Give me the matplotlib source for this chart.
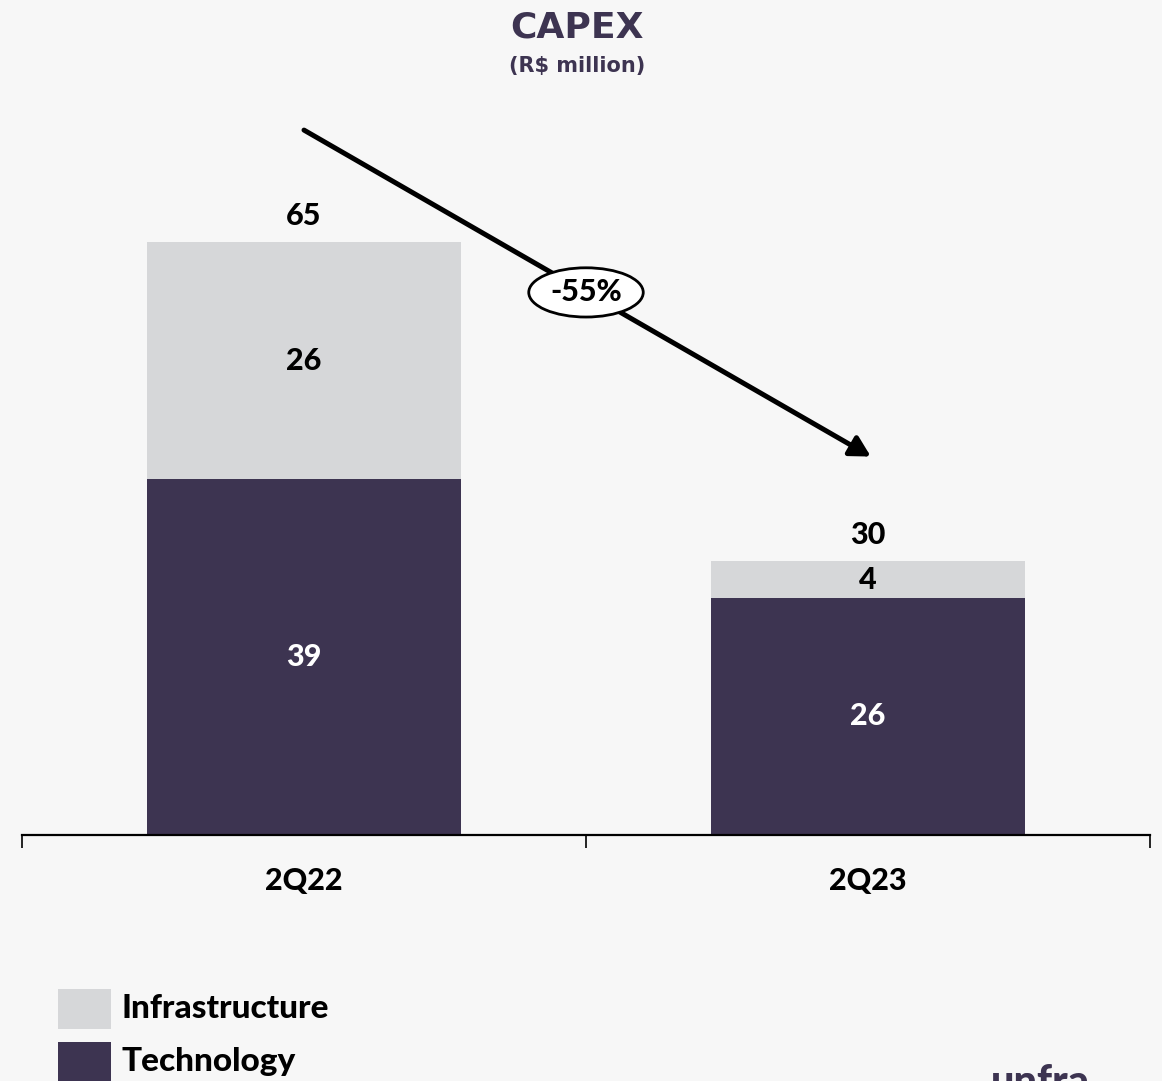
import matplotlib
matplotlib.use("Agg")
import matplotlib.pyplot as plt
from matplotlib.patches import Rectangle, Ellipse, FancyArrowPatch

# Quarterly capex split, R$ million
quarters = ["2Q22", "2Q23"]
technology = [39, 26]
infrastructure = [26, 4]
totals = [65, 30]
change_label = "-55%"

BG = "#f7f7f7"
TECH = "#3d3451"
INFRA = "#d6d7d9"
TITLE = "#3d3451"
LABEL_FONT = ["Lato", "DejaVu Sans"]
LW = "black"

W, H = 1162, 1081
fig = plt.figure(figsize=(W / 100, H / 100), dpi=100, facecolor=BG)

# axes frame placed in pixel terms of the canvas
ax_left, ax_right, ax_base, ax_top = 22, 1150, 835, 100
ax = fig.add_axes([ax_left / W, (H - ax_base) / H,
                   (ax_right - ax_left) / W, (ax_base - ax_top) / H])
ax.set_facecolor(BG)

x = list(range(len(quarters)))
bar_w = 0.555
ax.bar(x, technology, width=bar_w, color=TECH, zorder=2)
ax.bar(x, infrastructure, width=bar_w, bottom=technology, color=INFRA, zorder=2)

ax.set_xlim(-0.5, 1.5)
ax.set_ylim(0, 80.6)

for s in ("top", "right", "left"):
    ax.spines[s].set_visible(False)
ax.spines["bottom"].set_linewidth(1.6)
ax.spines["bottom"].set_color("black")
ax.set_yticks([])
ax.set_xticks(x)
ax.set_xticklabels(quarters, fontsize=22, fontweight=LW, family=LABEL_FONT)
ax.tick_params(axis="x", which="major", length=0, pad=23)
ax.set_xticks([-0.5, 0.5, 1.5], minor=True)
ax.tick_params(axis="x", which="minor", length=9.5, width=1.2, direction="out", color="black")

# segment labels and totals
for i in x:
    t, f, tot = technology[i], infrastructure[i], totals[i]
    ax.text(i, t / 2, f"{t}", ha="center", va="center", color="white",
            fontsize=22, fontweight=LW, family=LABEL_FONT, zorder=3)
    ax.text(i, t + f / 2, f"{f}", ha="center", va="center", color="black",
            fontsize=22, fontweight=LW, family=LABEL_FONT, zorder=3)
    ax.text(i, tot + 2.9, f"{tot}", ha="center", va="center", color="black",
            fontsize=22, fontweight=LW, family=LABEL_FONT, zorder=3)

# trend arrow between the two totals
y0 = totals[0] + 12.3
y1 = totals[1] + 11.5
arrow = FancyArrowPatch((0.0, y0), (1.005, y1), arrowstyle="-|>,head_length=0.6,head_width=0.33",
                        mutation_scale=20, color="black", lw=3.6, zorder=4,
                        shrinkA=0, shrinkB=0)
ax.add_patch(arrow)
ym = (y0 + y1) / 2 + 0.1
ax.add_patch(Ellipse((0.5, ym), 0.203, 5.4, facecolor="white", edgecolor="black",
                     lw=2.0, zorder=5))
ax.text(0.5, ym, change_label, ha="center", va="center", fontsize=22,
        fontweight=LW, family=LABEL_FONT, zorder=6)

# title block
fig.text(577 / W, 1 - 27 / H, "CAPEX", ha="center", va="center", fontsize=26,
         fontweight="bold", color=TITLE, family="DejaVu Sans")
fig.text(577 / W, 1 - 66 / H, "(R$ million)", ha="center", va="center", fontsize=15,
         fontweight="bold", color=TITLE, family="DejaVu Sans")

# legend
legend_items = [("Infrastructure", INFRA, 1009), ("Technology", TECH, 1062)]
for name, col, yc in legend_items:
    fig.add_artist(Rectangle((58 / W, 1 - (yc + 20) / H), 53 / W, 40 / H,
                             transform=fig.transFigure, facecolor=col, edgecolor="none"))
    fig.text(122 / W, 1 - yc / H, name, ha="left", va="center", fontsize=24,
             fontweight=LW, family=LABEL_FONT, color="black")

# brand mark running off the lower right edge
fig.text(1040 / W, -14 / H, "unfra", ha="center", va="baseline", fontsize=30,
         fontweight="black", family=LABEL_FONT, color=TITLE)

fig.savefig("out.png", dpi=100, facecolor=BG)
